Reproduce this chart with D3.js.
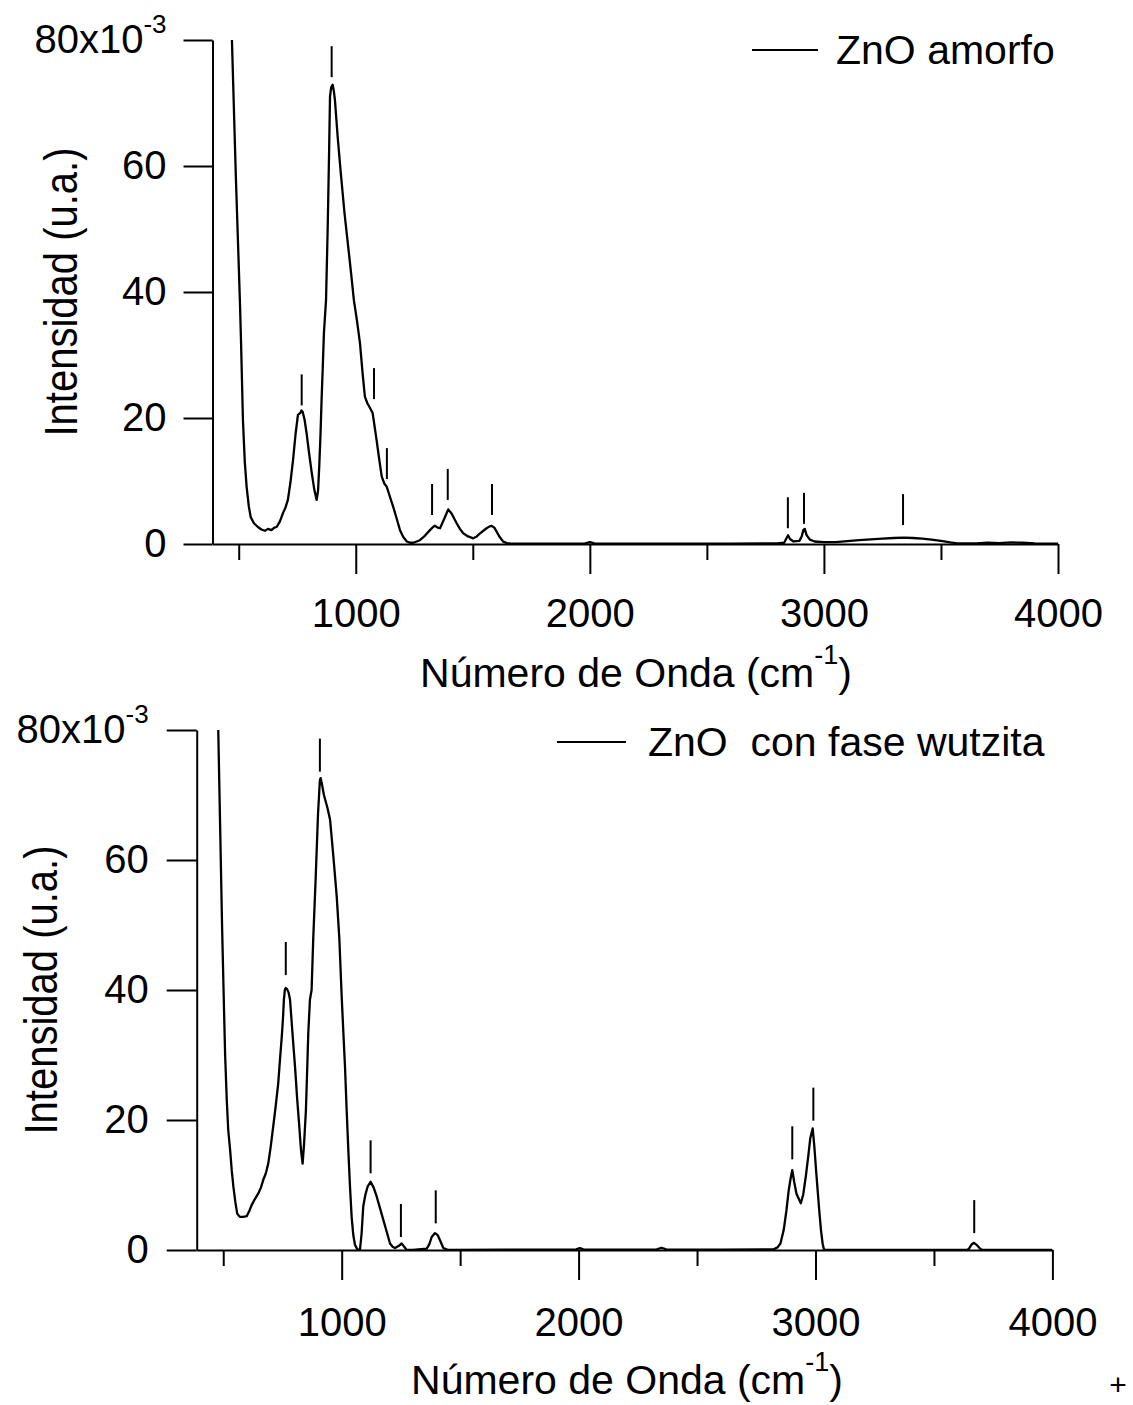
<!DOCTYPE html>
<html>
<head>
<meta charset="utf-8">
<script src="https://cdn.jsdelivr.net/npm/d3@7"></script>
<style>
  html, body { margin: 0; padding: 0; background: #fff; }
  svg { display: block; font-family: "Liberation Sans", Arial, sans-serif; }
</style>
</head>
<body>
<svg id="chart" width="1133" height="1405"></svg>
<script>
// FTIR spectra of ZnO films: intensity (x10^-3 a.u.) vs wavenumber (cm^-1)

// Amorphous ZnO spectrum
const amorfoWavenumber = [
  471, 488, 505, 510, 518, 526, 534, 543, 551, 565, 582, 597, 612, 625, 640, 652, 662, 676, 689, 700,
  710, 721, 732, 743, 753, 763, 768, 773, 781, 790, 800, 812, 823, 833, 839, 844, 849, 854, 859, 864,
  873, 880, 886, 890, 895, 901, 906, 911, 923, 936, 952, 968, 980, 992, 1005, 1018, 1029, 1039, 1050, 1061,
  1072, 1080, 1089, 1100, 1111, 1122, 1132, 1146, 1160, 1175, 1189, 1203, 1218, 1232, 1246, 1260, 1274, 1295, 1317, 1330,
  1338, 1350, 1360, 1378, 1395, 1410, 1431, 1445, 1459, 1480, 1502, 1517, 1531, 1545, 1559, 1572, 1581, 1592, 1602, 1615,
  1630, 1645, 1659, 1800, 1980, 2000, 2020, 2200, 2400, 2600, 2800, 2830, 2840, 2847, 2855, 2870, 2895, 2905, 2912, 2918,
  2926, 2940, 2960, 3000, 3050, 3100, 3150, 3200, 3250, 3300, 3340, 3380, 3420, 3460, 3500, 3540, 3570, 3650, 3700, 3750,
  3800, 3850, 3900, 3950, 4000
];
const amorfoIntensity = [
  80, 58, 38.7, 31.9, 19.7, 13, 9, 6, 4.3, 3.3, 2.7, 2.3, 2.1, 2.4, 2.2, 2.6, 2.7, 3.6, 4.9, 5.8,
  7, 9.8, 13.3, 17.5, 20.5, 20.8, 21.2, 21, 19.8, 17.6, 14.6, 11.3, 8.6, 7, 8.5, 12.3, 17, 22.9, 28, 33.5,
  38.7, 50, 62, 71, 72.5, 72.9, 72, 70.5, 64.5, 58.9, 52.5, 47.1, 43, 38.7, 35.5, 31.9, 27.2, 23.4, 22.3, 21.6,
  20.8, 18.8, 16.5, 13.5, 10.7, 9.6, 9.1, 7.5, 5.9, 4, 2.2, 1.1, 0.4, 0.2, 0.2, 0.4, 0.6, 1.3, 2.2, 2.7,
  2.9, 2.6, 2.5, 4, 5.5, 4.8, 3.3, 2.4, 1.7, 1.2, 0.9, 1.2, 1.7, 2.1, 2.5, 2.8, 2.86, 2.6, 1.95, 1.1,
  0.37, 0.15, 0.1, 0.05, 0.1, 0.3, 0.1, 0.05, 0.05, 0.05, 0.1, 0.2, 0.9, 1.4, 0.8, 0.4, 0.5, 1.2, 2.2, 2.4,
  1.4, 0.7, 0.4, 0.3, 0.3, 0.45, 0.6, 0.75, 0.85, 0.95, 1.0, 0.95, 0.85, 0.7, 0.5, 0.25, 0.1, 0.1, 0.2, 0.15,
  0.25, 0.2, 0.1, 0.05, 0.05
];
// Band markers: wavenumber and intensity at the foot of each mark
const amorfoBandWavenumber = [769, 897, 1078, 1133, 1326, 1393, 1582, 2846, 2915, 3338];
const amorfoBandIntensity  = [22, 74.1, 23, 10.3, 4.6, 7, 4.6, 2.5, 3.2, 3.0];

// ZnO with wurtzite phase spectrum
const wurtzitaWavenumber = [
  479, 487, 495, 502, 508, 515, 521, 529, 536, 543, 551, 559, 570, 585, 599, 610, 620, 633, 648, 659,
  669, 680, 690, 700, 711, 721, 732, 740, 747, 752, 756, 760, 764, 770, 776, 782, 792, 803, 812, 821,
  828, 835, 841, 849, 855, 859, 866, 873, 880, 890, 900, 908, 911, 916, 925, 940, 951, 965, 979, 990,
  1000, 1007, 1014, 1021, 1028, 1035, 1042, 1049, 1056, 1066, 1077, 1084, 1091, 1100, 1110, 1122, 1135, 1148, 1162, 1176,
  1190, 1204, 1215, 1225, 1240, 1253, 1264, 1274, 1300, 1359, 1370, 1380, 1394, 1405, 1415, 1429, 1450, 1700, 1990, 2005,
  2020, 2200, 2330, 2350, 2370, 2600, 2823, 2840, 2852, 2866, 2877, 2887, 2895, 2902, 2910, 2920, 2938, 2948, 2959, 2970,
  2978, 2988, 2995, 3003, 3009, 3016, 3023, 3030, 3035, 3040, 3640, 3648, 3660, 3669, 3680, 3695, 3705, 4000
];
const wurtzitaIntensity = [
  80, 65, 50, 39, 30, 23, 18.5, 15.4, 12.2, 9.7, 7.4, 5.6, 5.1, 5.1, 5.2, 6, 6.9, 7.8, 8.7, 9.6,
  10.8, 11.8, 13.3, 15.8, 19, 22, 25.6, 29.5, 32.8, 35.5, 38.5, 40, 40.3, 40.1, 39.6, 38.5, 33.5, 28.2, 23.3, 19,
  15.5, 13.3, 16.2, 21.5, 28.5, 33.4, 38.5, 40, 48, 57, 67, 72.3, 72.6, 71.8, 70, 68, 66.2, 60.5, 54.4, 48,
  39, 33.5, 28.2, 21.5, 15.4, 9.8, 5.1, 2.3, 0.8, 0.1, 0, 2.5, 6.7, 8.5, 9.8, 10.5, 9.6, 8.2, 6.4, 4.6,
  2.8, 1.0, 0.5, 0.3, 0.6, 1.0, 0.5, 0, 0, 0.2, 0.9, 2.0, 2.6, 2.3, 1.5, 0.3, 0, 0.05, 0.1, 0.3,
  0.1, 0.05, 0.1, 0.35, 0.1, 0.05, 0.1, 0.4, 1.0, 3.1, 6, 9.2, 11, 12.3, 10.5, 8.6, 7.2, 8.5, 11.3, 14.6,
  17.2, 18.7, 16, 12, 9.2, 6, 3.1, 1, 0.2, 0, 0, 0.2, 0.9, 1.1, 0.8, 0.2, 0, 0
];
const wurtzitaBandWavenumber = [764, 908, 1122, 1250, 1397, 2902, 2991, 3670];
const wurtzitaBandIntensity  = [42.3, 73.6, 11.8, 2.0, 4.1, 13.95, 19.9, 2.6];

// Axis ticks
const xMajorTicks = [1000, 2000, 3000, 4000];
const xMinorTicks = [500, 1500, 2500, 3500];
const yTicks = [0, 20, 40, 60, 80];
const xDomain = [388, 4000];
const yDomain = [0, 80];

const xTitle = "Número de Onda (cm";
const yTitle = "Intensidad (u.a.)";

const svg = d3.select("#chart");
svg.append("rect").attr("width", 1133).attr("height", 1405).attr("fill", "#fff");

function drawPanel(p) {
  const x = d3.scaleLinear().domain(xDomain).range([p.left, p.right]);
  const y = d3.scaleLinear().domain(yDomain).range([p.bottom, p.top]);
  const g = svg.append("g").attr("id", p.id);

  const styleAxis = sel => {
    sel.selectAll("path.domain").attr("stroke", "#000").attr("stroke-width", 2);
    sel.selectAll(".tick line").attr("stroke", "#000").attr("stroke-width", 2);
    sel.selectAll(".tick text").attr("fill", "#000").attr("font-size", 40)
      .attr("font-family", "'Liberation Sans', Arial, sans-serif");
  };

  // y axis
  const yAxisG = g.append("g").attr("transform", `translate(${p.left},0)`)
    .call(d3.axisLeft(y).tickValues(yTicks).tickSize(p.yTickLen).tickSizeOuter(0)
      .tickPadding(p.yPad).tickFormat(d3.format("d")));
  styleAxis(yAxisG);
  yAxisG.selectAll(".tick text").filter(d => d === 80).each(function() {
    const t = d3.select(this);
    t.text("80x10");
    t.append("tspan").attr("font-size", 26).attr("dy", -20).text("-3");
  });

  // x axis: major ticks with labels, minor ticks without
  const xAxisG = g.append("g").attr("transform", `translate(0,${p.bottom})`)
    .call(d3.axisBottom(x).tickValues(xMajorTicks).tickSize(30).tickSizeOuter(0)
      .tickPadding(p.xPad).tickFormat(d3.format("d")));
  styleAxis(xAxisG);
  const xMinorG = g.append("g").attr("transform", `translate(0,${p.bottom})`)
    .call(d3.axisBottom(x).tickValues(xMinorTicks).tickSize(16).tickSizeOuter(0).tickFormat(""));
  styleAxis(xMinorG);
  xMinorG.select("path.domain").remove();

  // spectrum
  const clipId = p.id + "-clip";
  svg.append("clipPath").attr("id", clipId).append("rect")
    .attr("x", p.left).attr("y", p.top - 2).attr("width", p.right - p.left).attr("height", p.bottom - p.top + 2);
  const pts = p.wn.map((w, i) => [w, p.iv[i]]);
  g.append("path")
    .attr("clip-path", `url(#${clipId})`)
    .attr("d", d3.line().x(d => x(d[0])).y(d => y(d[1]))(pts))
    .attr("fill", "none").attr("stroke", "#000").attr("stroke-width", 2.3)
    .attr("stroke-linejoin", "round");

  // band markers
  g.selectAll("line.band").data(p.bandWn.map((w, i) => [w, p.bandIv[i]]))
    .join("line").attr("class", "band")
    .attr("x1", d => x(d[0])).attr("x2", d => x(d[0]))
    .attr("y1", d => y(d[1])).attr("y2", d => y(d[1]) - p.markLen)
    .attr("stroke", "#000").attr("stroke-width", 2);

  // legend
  g.append("line").attr("x1", p.legX1).attr("x2", p.legX2).attr("y1", p.legY).attr("y2", p.legY)
    .attr("stroke", "#000").attr("stroke-width", 2);
  g.append("text").attr("x", p.legTextX).attr("y", p.legY + 14).attr("font-size", 41)
    .attr("xml:space", "preserve").style("white-space", "pre").text(p.label);

  // axis titles
  const xt = g.append("text").attr("x", p.xTitleX).attr("y", p.xTitleY)
    .attr("text-anchor", "middle").attr("font-size", 41);
  xt.append("tspan").text(xTitle);
  xt.append("tspan").attr("font-size", 27).attr("dy", -23).text("-1");
  xt.append("tspan").attr("dy", 23).text(")");

  g.append("text")
    .attr("transform", `translate(${p.yTitleX},${p.yTitleY}) rotate(-90) scale(1,1.15)`)
    .attr("text-anchor", "middle").attr("font-size", 40).text(yTitle);
}

drawPanel({
  id: "amorfo", left: 212.5, right: 1058, top: 40, bottom: 544,
  yTickLen: 29, yPad: 17, xPad: 25, markLen: 31,
  wn: amorfoWavenumber, iv: amorfoIntensity,
  bandWn: amorfoBandWavenumber, bandIv: amorfoBandIntensity,
  legX1: 752, legX2: 818, legY: 50, legTextX: 836, label: "ZnO amorfo",
  xTitleX: 636, xTitleY: 687, yTitleX: 77, yTitleY: 292
});

drawPanel({
  id: "wurtzita", left: 196.7, right: 1052.4, top: 730, bottom: 1250,
  yTickLen: 30, yPad: 18, xPad: 28, markLen: 33,
  wn: wurtzitaWavenumber, iv: wurtzitaIntensity,
  bandWn: wurtzitaBandWavenumber, bandIv: wurtzitaBandIntensity,
  legX1: 557, legX2: 626, legY: 742, legTextX: 648, label: "ZnO  con fase wutzita",
  xTitleX: 627, xTitleY: 1394, yTitleX: 57, yTitleY: 990
});

svg.append("text").attr("x", 1118).attr("y", 1395).attr("text-anchor", "middle")
  .attr("font-size", 30).text("+");
</script>
</body>
</html>
